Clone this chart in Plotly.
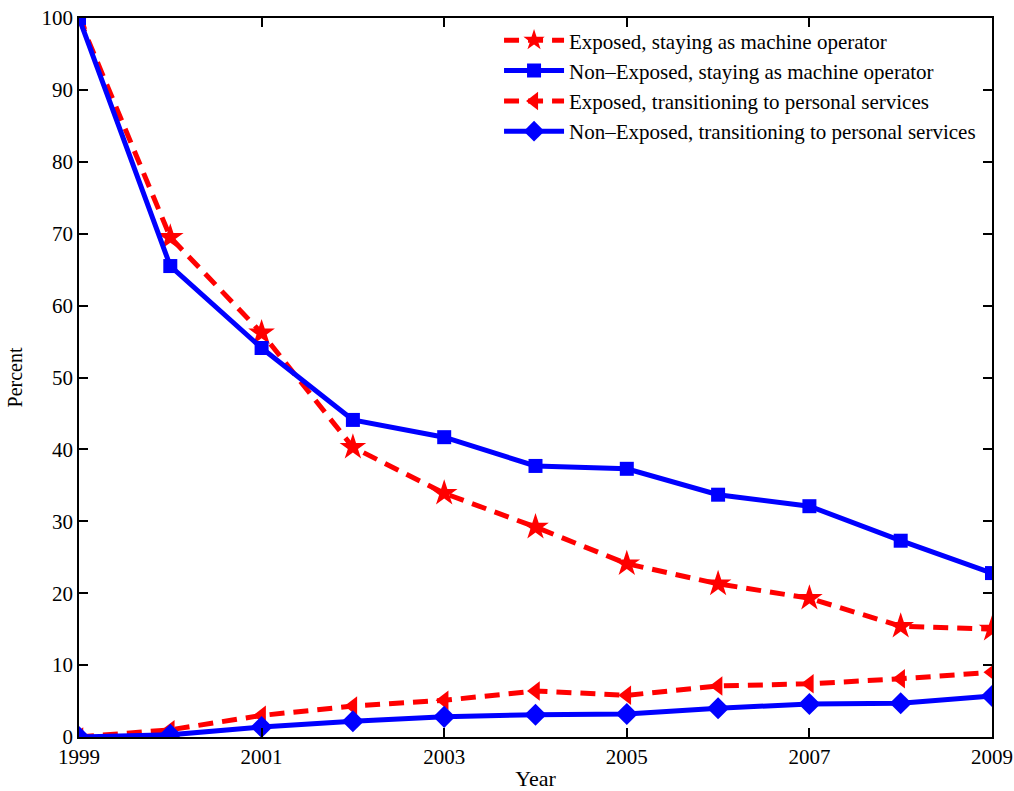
import plotly.graph_objects as go

years = [1999, 2000, 2001, 2002, 2003, 2004, 2005, 2006, 2007, 2008, 2009]
exposed_stay = [100, 69.5, 56.2, 40.3, 33.9, 29.2, 24.1, 21.3, 19.3, 15.4, 15.0]
nonexposed_stay = [100, 65.5, 54.1, 44.1, 41.7, 37.7, 37.3, 33.7, 32.1, 27.3, 22.8]
exposed_trans = [0, 1.0, 3.0, 4.3, 5.1, 6.4, 5.8, 7.1, 7.4, 8.1, 9.0]
nonexposed_trans = [0, 0.3, 1.4, 2.2, 2.8, 3.1, 3.2, 4.0, 4.6, 4.7, 5.7]

names = [
    "Exposed, staying as machine operator",
    "Non\u2013Exposed, staying as machine operator",
    "Exposed, transitioning to personal services",
    "Non\u2013Exposed, transitioning to personal services",
]
x_ticks = [1999, 2001, 2003, 2005, 2007, 2009]
y_ticks = [0, 10, 20, 30, 40, 50, 60, 70, 80, 90, 100]

RED = "#ff0000"
BLUE = "#0000ff"
DASH = "15px,9px"

fig = go.Figure()
fig.add_trace(go.Scatter(x=years, y=exposed_stay, name=names[0], mode="lines+markers",
                         line=dict(color=RED, width=5, dash=DASH),
                         marker=dict(symbol="star", size=20, color=RED)))
fig.add_trace(go.Scatter(x=years, y=nonexposed_stay, name=names[1], mode="lines+markers",
                         line=dict(color=BLUE, width=5),
                         marker=dict(symbol="square", size=14, color=BLUE)))
fig.add_trace(go.Scatter(x=years, y=exposed_trans, name=names[2], mode="lines+markers",
                         line=dict(color=RED, width=5, dash=DASH),
                         marker=dict(symbol="triangle-left", size=17, color=RED)))
fig.add_trace(go.Scatter(x=years, y=nonexposed_trans, name=names[3], mode="lines+markers",
                         line=dict(color=BLUE, width=5),
                         marker=dict(symbol="diamond", size=17, color=BLUE)))

axis_common = dict(showgrid=False, zeroline=False, showline=True, linecolor="black",
                   linewidth=1.5, mirror="ticks", ticks="inside", ticklen=9,
                   tickcolor="black", tickwidth=1.5, automargin=False,
                   ticklabeloverflow="allow",
                   tickfont=dict(family="Liberation Serif", size=21, color="black"))

fig.update_layout(
    width=1014, height=791,
    margin=dict(l=79, r=22, t=18, b=54),
    paper_bgcolor="white", plot_bgcolor="white",
    font=dict(family="Liberation Serif", size=21, color="black"),
    xaxis=dict(range=[1999, 2009], tickvals=x_ticks, ticklabelstandoff=0,
               title=dict(text="Year", standoff=3, font=dict(size=22)), **axis_common),
    yaxis=dict(range=[0, 100], tickvals=y_ticks, ticklabelstandoff=0,
               title=dict(text="Percent", standoff=14, font=dict(size=20)), **axis_common),
    legend=dict(x=0.988, y=0.997, xanchor="right", yanchor="top",
                bgcolor="rgba(255,255,255,0)", borderwidth=0, itemwidth=60,
                font=dict(family="Liberation Serif", size=21), tracegroupgap=0),
    showlegend=True,
)

fig.write_html(
    "out.html",
    config={"displayModeBar": False},
    post_script="document.body.style.margin='0';document.body.style.overflow='hidden';",
)
